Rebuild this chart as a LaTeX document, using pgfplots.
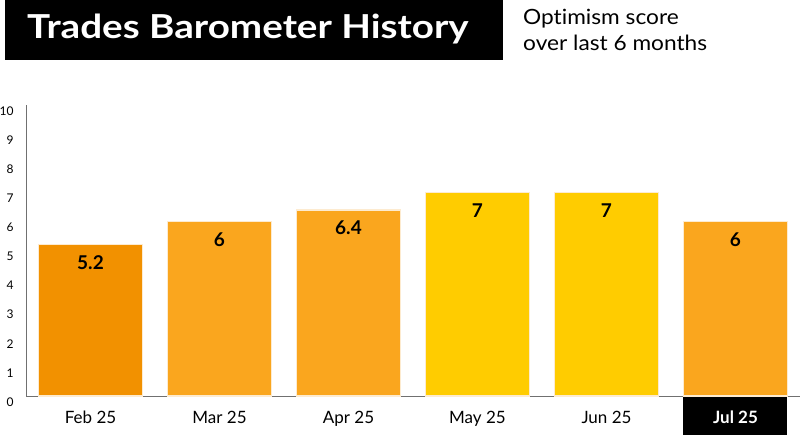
\documentclass[border=0pt]{standalone}
\usepackage{pgfplots}
\pgfplotsset{compat=1.18}
\usepackage{fontspec}
\setmainfont{Lato}[Ligatures=NoCommon]
\definecolor{barDark}{HTML}{F29100}
\definecolor{barMid}{HTML}{FAA61E}
\definecolor{barLight}{HTML}{FFCC00}
\definecolor{barEdge}{HTML}{FDEBD0}
\definecolor{axisGray}{HTML}{707070}

\begin{document}
\begin{tikzpicture}
\path[use as bounding box] (0pt,0pt) rectangle (800pt,-435pt);
% title block
\fill[black] (5pt,0pt) rectangle (503pt,-60pt);
\node[anchor=base west, inner sep=0, text=white, font=\fontsize{33}{36}\selectfont\bfseries] at (27pt,-39pt) {\scalebox{1.17}[1]{Trades Barometer History}};
\node[anchor=base west, inner sep=0, font=\fontsize{21}{26}\selectfont] at (523pt,-25pt) {\scalebox{1.08}[1]{Optimism score}};
\node[anchor=base west, inner sep=0, font=\fontsize{21}{26}\selectfont] at (523pt,-51pt) {\scalebox{1.08}[1]{over last 6 months}};
% highlight box behind the last month
\fill[black] (683pt,-396pt) rectangle (787pt,-435pt);
\begin{axis}[
	at={(26pt,-396pt)}, anchor=south west,
	width=774pt, height=291pt, scale only axis,
	xmin=-0.5, xmax=5.5, ymin=0, ymax=10,
	axis lines*=left,
	axis line style={axisGray, line width=1pt},
	major tick length=0pt,
	xtick={0,...,5},
	xticklabels={Feb 25, Mar 25, Apr 25, May 25, Jun 25, {\color{white}\bfseries Jul 25}},
	ytick={0,...,10},
	xticklabel style={anchor=base, yshift=-27pt, font=\fontsize{17}{18}\selectfont},
	yticklabel style={font=\fontsize{12}{13}\selectfont, xshift=-9pt, yshift=-6pt},
	/pgf/number format/assume math mode=true,
	nodes near coords,
	every node near coord/.append style={anchor=center, yshift=-18pt, text=black, font=\fontsize{19}{20}\selectfont\bfseries},
]
\addplot[ybar, bar width=104pt, fill=barDark, draw=barEdge, line width=1.5pt] coordinates {(0,5.2)};
\addplot[ybar, bar width=104pt, fill=barMid, draw=barEdge, line width=1.5pt] coordinates {(1,6) (2,6.4) (5,6)};
\addplot[ybar, bar width=104pt, fill=barLight, draw=barEdge, line width=1.5pt] coordinates {(3,7) (4,7)};
\end{axis}
\end{tikzpicture}
\end{document}
